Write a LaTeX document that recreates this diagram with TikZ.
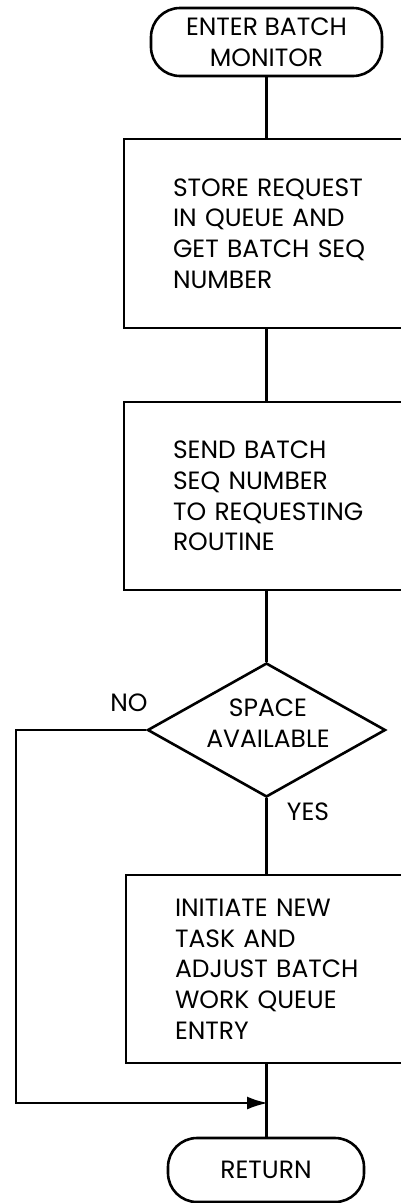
\documentclass[tikz,border=0pt]{standalone}
\usepackage{fontspec}
\setmainfont{Poppins}
\usetikzlibrary{shapes.geometric, arrows.meta}
\begin{document}
\begin{tikzpicture}[x=1pt,y=-1pt,
  every node/.style={font=\fontsize{25}{30.7}\selectfont},
  line/.style={line width=2.6pt},
  procbox/.style={draw, line width=2.6pt, inner xsep=49pt, inner ysep=0pt, text width=238pt, align=left},
  term/.style={draw, line width=2.6pt, rounded corners=29pt, align=center, inner sep=0pt},
  decision/.style={draw, diamond, line width=2.6pt, minimum width=238pt, minimum height=134pt, inner sep=0pt},
  lbl/.style={inner sep=0pt}
]
\useasboundingbox (0,0) rectangle (401,1203);
\clip (0,0) rectangle (401,1203);

\node[term, minimum width=231pt, minimum height=68pt] (start) at (266.5,42) {ENTER BATCH\\MONITOR};
\node[procbox, minimum height=189pt] (b1) at (292,233.5) {STORE REQUEST\\IN QUEUE AND\\GET BATCH SEQ\\NUMBER};
\node[procbox, minimum height=188pt] (b2) at (292,496) {SEND BATCH\\SEQ NUMBER\\TO REQUESTING\\ROUTINE};
\node[decision] (dec) at (266.5,730) {};
\node[lbl, align=center] (dectext) at (268,723) {SPACE\\AVAILABLE};
\node[lbl] (no) at (129,703) {NO};
\node[lbl] (yes) at (308,812) {YES};
\node[procbox, minimum height=188pt] (b3) at (294,969) {INITIATE NEW\\TASK AND\\ADJUST BATCH\\WORK QUEUE\\ENTRY};
\node[term, minimum width=196pt, minimum height=64pt] (ret) at (266,1170) {RETURN};

\coordinate (corner) at (16,730);
\coordinate (join) at (268,1103);

\draw[line] (start.south) -- (start.south |- b1.north);
\draw[line] (b1.south -| start.south) -- (b2.north -| start.south);
\draw[line] (b2.south -| dec.north) -- (dec.north);
\draw[line] (dec.south) -- (dec.south |- b3.north);
\draw[line] (b3.south -| dec.south) -- (ret.north -| dec.south);
\draw[line, -{Latex[length=21pt,width=13pt]}] (dec.west) -- (corner) |- (join);
\end{tikzpicture}
\end{document}
